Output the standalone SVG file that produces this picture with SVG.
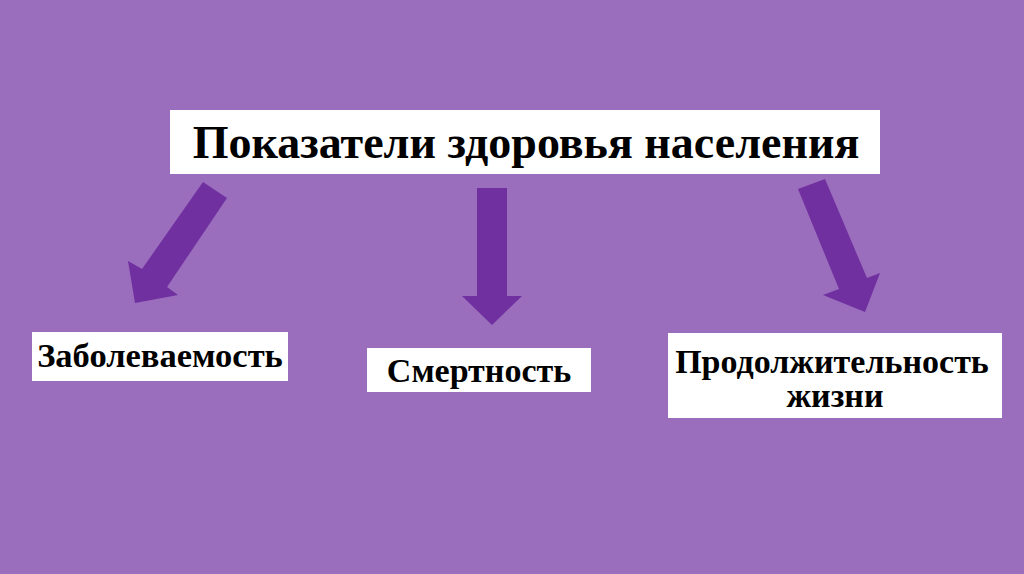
<svg xmlns="http://www.w3.org/2000/svg" width="1024" height="574" viewBox="0 0 1024 574">
<style>
.box{fill:#ffffff}
.t{font-family:"Liberation Serif","Times New Roman",serif;font-weight:bold;fill:#000;text-anchor:middle}
.arr{fill:#7030a0}
</style>
<rect x="0" y="0" width="1024" height="574" fill="#9b6dbd"/>
<g id="title">
<rect class="box" x="170" y="110" width="710" height="64"/>
<text class="t" x="526" y="158" font-size="46">Показатели здоровья населения</text>
</g>
<g id="zabol">
<rect class="box" x="32" y="332" width="256" height="49"/>
<text class="t" x="160" y="367" font-size="34.5">Заболеваемость</text>
</g>
<g id="smert">
<rect class="box" x="367" y="348" width="224" height="44"/>
<text class="t" x="479" y="382" font-size="34">Смертность</text>
</g>
<g id="prodol">
<rect class="box" x="668" y="333" width="334" height="85"/>
<text class="t" x="832" y="373" font-size="34">Продолжительность</text>
<text class="t" x="835" y="407" font-size="34">жизни</text>
</g>
<g id="connectors">
<polygon class="arr" points="203,182 227,198 167,287 178,295 135,303 128,261 142,269"/>
<polygon class="arr" points="477,188 507,188 507,296 522,296 492,325 462,296 477,296"/>
<polygon class="arr" points="798,189 825,179 867,278 880,273 865,312 823,295 839,289"/>
</g>
</svg>
